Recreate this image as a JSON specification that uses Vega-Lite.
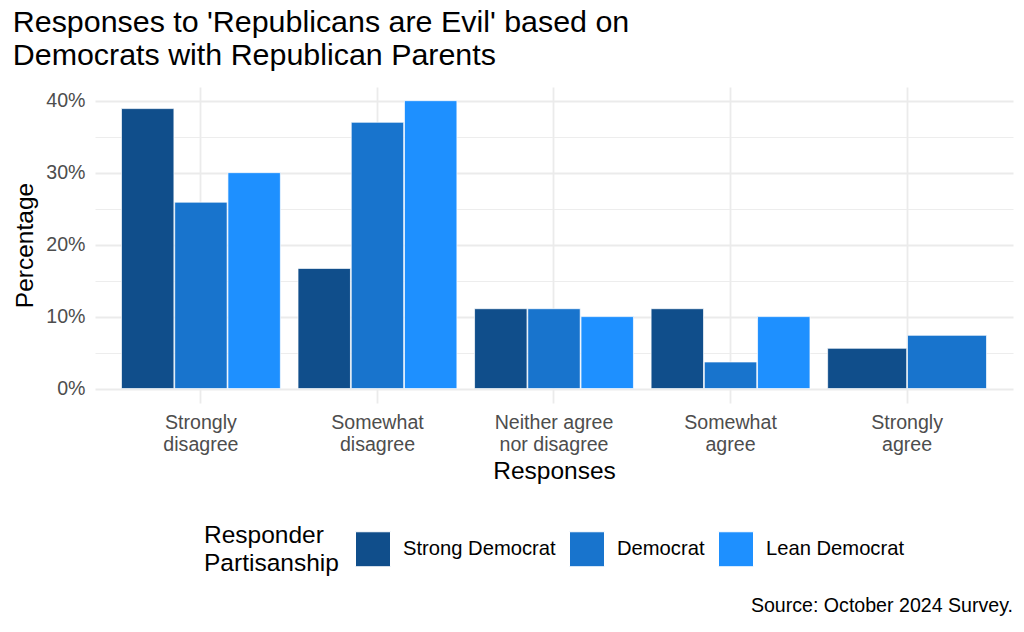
{
  "$schema": "https://vega.github.io/schema/vega-lite/v6.json",
  "background": "white",
  "padding": {"left": 12, "top": 8, "right": 12, "bottom": 5},
  "title": {
    "text": ["Responses to 'Republicans are Evil' based on", "Democrats with Republican Parents"],
    "anchor": "start",
    "frame": "bounds",
    "font": "Liberation Sans",
    "fontSize": 30.4,
    "fontWeight": "normal",
    "color": "black",
    "lineHeight": 33,
    "offset": 15.5
  },
  "data": {
    "values": [
      {"response": "Strongly disagree", "partisanship": "Strong Democrat", "pct": 38.9},
      {"response": "Strongly disagree", "partisanship": "Democrat", "pct": 25.9},
      {"response": "Strongly disagree", "partisanship": "Lean Democrat", "pct": 30.0},
      {"response": "Somewhat disagree", "partisanship": "Strong Democrat", "pct": 16.7},
      {"response": "Somewhat disagree", "partisanship": "Democrat", "pct": 37.0},
      {"response": "Somewhat disagree", "partisanship": "Lean Democrat", "pct": 40.0},
      {"response": "Neither agree nor disagree", "partisanship": "Strong Democrat", "pct": 11.1},
      {"response": "Neither agree nor disagree", "partisanship": "Democrat", "pct": 11.1},
      {"response": "Neither agree nor disagree", "partisanship": "Lean Democrat", "pct": 10.0},
      {"response": "Somewhat agree", "partisanship": "Strong Democrat", "pct": 11.1},
      {"response": "Somewhat agree", "partisanship": "Democrat", "pct": 3.7},
      {"response": "Somewhat agree", "partisanship": "Lean Democrat", "pct": 10.0},
      {"response": "Strongly agree", "partisanship": "Strong Democrat", "pct": 5.6},
      {"response": "Strongly agree", "partisanship": "Democrat", "pct": 7.4}
    ]
  },
  "vconcat": [
    {
      "width": 918,
      "height": 316,
      "title": {
        "text": "Source: October 2024 Survey.",
        "orient": "bottom",
        "anchor": "end",
        "frame": "bounds",
        "font": "Liberation Sans",
        "fontSize": 19.6,
        "fontWeight": "normal",
        "color": "black",
        "offset": 21
      },
      "encoding": {
        "x": {
          "field": "response",
          "type": "nominal",
          "sort": ["Strongly disagree", "Somewhat disagree", "Neither agree nor disagree", "Somewhat agree", "Strongly agree"],
          "scale": {"paddingInner": 0.1, "paddingOuter": 0.15},
          "axis": {
            "title": "Responses",
            "labelAngle": 0,
            "labelExpr": "datum.label == 'Neither agree nor disagree' ? ['Neither agree', 'nor disagree'] : split(datum.label, ' ')",
            "bandPosition": 0.5,
            "grid": true,
            "gridColor": "#EBEBEB",
            "gridWidth": 1.8,
            "ticks": false,
            "domain": false,
            "labelFont": "Liberation Sans",
            "labelFontSize": 19.6,
            "labelColor": "#4D4D4D",
            "labelLineHeight": 22,
            "labelPadding": 10,
            "titleFont": "Liberation Sans",
            "titleFontSize": 24.5,
            "titleFontWeight": "normal",
            "titleColor": "black",
            "titlePadding": 6
          }
        },
        "y": {
          "field": "pct",
          "type": "quantitative",
          "scale": {"domain": [-2, 41.9], "nice": false, "zero": false},
          "axis": {
            "title": "Percentage",
            "values": [0, 5, 10, 15, 20, 25, 30, 35, 40],
            "labelExpr": "datum.value % 10 == 0 ? datum.value + '%' : ''",
            "grid": true,
            "gridColor": "#EBEBEB",
            "gridWidth": {"condition": {"test": "datum.value % 10 == 0", "value": 1.8}, "value": 0.9},
            "ticks": false,
            "domain": false,
            "labelFont": "Liberation Sans",
            "labelFontSize": 19.6,
            "labelColor": "#4D4D4D",
            "labelPadding": 10,
            "titleFont": "Liberation Sans",
            "titleFontSize": 24.5,
            "titleFontWeight": "normal",
            "titleColor": "black",
            "titlePadding": 8
          }
        },
        "y2": {"datum": 0},
        "color": {
          "field": "partisanship",
          "type": "nominal",
          "scale": {
            "domain": ["Strong Democrat", "Democrat", "Lean Democrat"],
            "range": ["#104E8B", "#1874CD", "#1E90FF"]
          },
          "legend": {
            "title": ["Responder", "Partisanship"],
            "orient": "bottom",
            "direction": "horizontal",
            "titleOrient": "left",
            "titleFont": "Liberation Sans",
            "titleFontSize": 24.5,
            "titleFontWeight": "normal",
            "titleColor": "black",
            "titleLineHeight": 28,
            "titlePadding": 16,
            "titleBaseline": "middle",
            "labelFont": "Liberation Sans",
            "labelFontSize": 20.2,
            "labelColor": "black",
            "labelOffset": 12,
            "columnPadding": 11,
            "symbolType": "square",
            "symbolSize": 1225,
            "symbolStrokeColor": "white",
            "symbolStrokeWidth": 1,
            "symbolOpacity": 1,
            "offset": 47
          }
        }
      },
      "layer": [
        {
          "transform": [{"filter": "datum.response != 'Strongly agree'"}],
          "mark": {"type": "bar", "stroke": "white", "strokeWidth": 1, "strokeOpacity": 0.7, "opacity": 1},
          "encoding": {
            "xOffset": {
              "field": "partisanship",
              "type": "nominal",
              "sort": ["Strong Democrat", "Democrat", "Lean Democrat"],
              "scale": {"paddingInner": 0.015, "paddingOuter": 0}
            }
          }
        },
        {
          "transform": [{"filter": "datum.response == 'Strongly agree'"}],
          "mark": {"type": "bar", "stroke": "white", "strokeWidth": 1, "strokeOpacity": 0.7, "opacity": 1},
          "encoding": {
            "xOffset": {
              "field": "partisanship",
              "type": "nominal",
              "sort": ["Strong Democrat", "Democrat"],
              "scale": {"paddingInner": 0.01, "paddingOuter": 0}
            }
          }
        }
      ],
      "resolve": {"scale": {"xOffset": "independent"}}
    }
  ],
  "resolve": {"legend": {"color": "independent"}},
  "config": {
    "view": {"stroke": null},
    "font": "Liberation Sans",
    "legend": {"layout": {"bottom": {"anchor": "middle"}}}
  }
}
